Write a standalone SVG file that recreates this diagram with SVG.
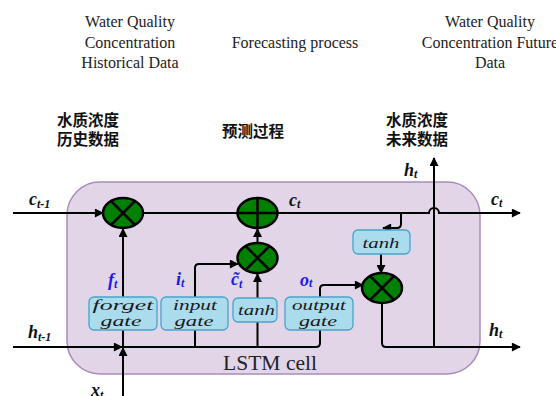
<svg xmlns="http://www.w3.org/2000/svg" width="556" height="396" viewBox="0 0 556 396">
<style>
.en{font-family:"Liberation Serif","Times New Roman",serif;font-size:16px;fill:#222;text-anchor:middle}
.zh{font-family:"Noto Sans CJK SC",sans-serif;font-size:15.5px;font-weight:700;fill:#111}
.ln{fill:none;stroke:#000;stroke-width:2}
.box{fill:#aadcee;stroke:#4aa3c8;stroke-width:1.3}
.bt{font-family:"Liberation Serif","Times New Roman",serif;font-style:italic;font-size:14.5px;fill:#1a1a1a;text-anchor:middle}
.op{fill:#008000;stroke:#000;stroke-width:2.5}
.opl{stroke:#000;stroke-width:2.5}
.lb{font-family:"Liberation Serif","Times New Roman",serif;font-style:italic;font-weight:700;font-size:18px;fill:#111}
.sub{font-size:12px}
.bl{fill:#1a1aee}
</style>
<defs>
<marker id="arr" viewBox="0 0 10 10" refX="9" refY="5" markerWidth="11" markerHeight="9" markerUnits="userSpaceOnUse" orient="auto">
<path d="M0,0 L10,5 L0,10 Z" fill="#000"/>
</marker>
</defs>

<g id="titles">
<text class="en" x="130" y="27">Water Quality</text>
<text class="en" x="130" y="48">Concentration</text>
<text class="en" x="130" y="68">Historical Data</text>
<text class="en" x="295" y="48">Forecasting process</text>
<text class="en" x="490" y="27">Water Quality</text>
<text class="en" x="490" y="48">Concentration Future</text>
<text class="en" x="490" y="68">Data</text>
<text class="zh" x="57" y="126">水质浓度<tspan x="57" dy="19">历史数据</tspan></text>
<text class="zh" x="222" y="137">预测过程</text>
<text class="zh" x="386" y="126">水质浓度<tspan x="386" dy="19">未来数据</tspan></text>
</g>

<g id="cell">
<rect x="67" y="182" width="413" height="192" rx="33" ry="33" fill="#e2d5e8" stroke="#a98cba" stroke-width="1.5"/>
<text x="270" y="370" font-family="Liberation Serif, Times New Roman, serif" font-size="21.5" fill="#222" text-anchor="middle" textLength="94" lengthAdjust="spacingAndGlyphs">LSTM cell</text>
</g>

<g id="connectors">
<path class="ln" d="M13,213 H103" marker-end="url(#arr)"/>
<path class="ln" d="M143,213 H238"/>
<path class="ln" d="M277,213 H429 A5,5 0 0 1 439,213 H520" marker-end="url(#arr)"/>
<path class="ln" d="M401,213 V224 Q401,228 397,228 H383" marker-end="url(#arr)"/>
<path class="ln" d="M13,347 H122" marker-end="url(#arr)"/>
<path class="ln" d="M122,347 H316 Q320,347 320,343 V330"/>
<path class="ln" d="M123,396 V348" marker-end="url(#arr)"/>
<path class="ln" d="M123,347 V229" marker-end="url(#arr)"/>
<path class="ln" d="M195,347 V268 Q195,264 199,264 H238" marker-end="url(#arr)"/>
<path class="ln" d="M257.5,347 V274" marker-end="url(#arr)"/>
<path class="ln" d="M257.5,243 V229" marker-end="url(#arr)"/>
<path class="ln" d="M320,297 V289 Q320,285 324,285 H363" marker-end="url(#arr)"/>
<path class="ln" d="M381,253 V273" marker-end="url(#arr)"/>
<path class="ln" d="M382,303 V343 Q382,347 386,347 H520" marker-end="url(#arr)"/>
<path class="ln" d="M434,347 V158" marker-end="url(#arr)"/>
</g>

<g id="forget-mult">
<ellipse class="op" cx="123" cy="213" rx="20" ry="15"/>
<path class="opl" d="M111,201 L135,225 M135,201 L111,225"/>
</g>
<g id="plus">
<ellipse class="op" cx="257.5" cy="213" rx="20" ry="15"/>
<path class="opl" d="M237.5,213 H277.5 M257.5,198 V228"/>
</g>
<g id="input-mult">
<ellipse class="op" cx="257.5" cy="258" rx="20" ry="15"/>
<path class="opl" d="M245.5,246 L269.5,270 M269.5,246 L245.5,270"/>
</g>
<g id="output-mult">
<ellipse class="op" cx="382" cy="288" rx="20" ry="15"/>
<path class="opl" d="M370,276 L394,300 M394,276 L370,300"/>
</g>

<g id="forget-gate">
<rect class="box" x="89" y="297" width="68" height="33" rx="5"/>
<text class="bt" x="123" y="309.5" textLength="61" lengthAdjust="spacingAndGlyphs">forget</text>
<text class="bt" x="121" y="325.5" textLength="41" lengthAdjust="spacingAndGlyphs">gate</text>
</g>
<g id="input-gate">
<rect class="box" x="161" y="297" width="67" height="33" rx="5"/>
<text class="bt" x="195" y="309.5" textLength="44" lengthAdjust="spacingAndGlyphs">input</text>
<text class="bt" x="194" y="325.5" textLength="39" lengthAdjust="spacingAndGlyphs">gate</text>
</g>
<g id="tanh-cand">
<rect class="box" x="233" y="298" width="44" height="24" rx="5"/>
<text class="bt" x="256.5" y="315" textLength="37" lengthAdjust="spacingAndGlyphs">tanh</text>
</g>
<g id="output-gate">
<rect class="box" x="285" y="297" width="68" height="33" rx="5"/>
<text class="bt" x="319" y="309.5" textLength="54" lengthAdjust="spacingAndGlyphs">output</text>
<text class="bt" x="318" y="325.5" textLength="38" lengthAdjust="spacingAndGlyphs">gate</text>
</g>
<g id="tanh-out">
<rect class="box" x="353" y="230" width="57" height="24" rx="5"/>
<text class="bt" x="381" y="247.5" textLength="37" lengthAdjust="spacingAndGlyphs">tanh</text>
</g>

<g id="labels">
<text class="lb" x="29" y="205">c<tspan class="sub" dy="3">t-1</tspan></text>
<text class="lb" x="28" y="338">h<tspan class="sub" dy="3">t-1</tspan></text>
<text class="lb" x="91" y="396">x<tspan class="sub" dy="3">t</tspan></text>
<text class="lb" x="289" y="206">c<tspan class="sub" dy="2">t</tspan></text>
<text class="lb" x="491" y="205">c<tspan class="sub" dy="2">t</tspan></text>
<text class="lb" x="404" y="176">h<tspan class="sub" dy="2">t</tspan></text>
<text class="lb" x="489" y="336">h<tspan class="sub" dy="2">t</tspan></text>
<text class="lb bl" x="108" y="286">f<tspan class="sub" dy="2">t</tspan></text>
<text class="lb bl" x="176" y="285">i<tspan class="sub" dy="2">t</tspan></text>
<text class="lb bl" x="231" y="285">c̃<tspan class="sub" dy="3">t</tspan></text>
<text class="lb bl" x="300" y="286">o<tspan class="sub" dy="1">t</tspan></text>
</g>
</svg>
